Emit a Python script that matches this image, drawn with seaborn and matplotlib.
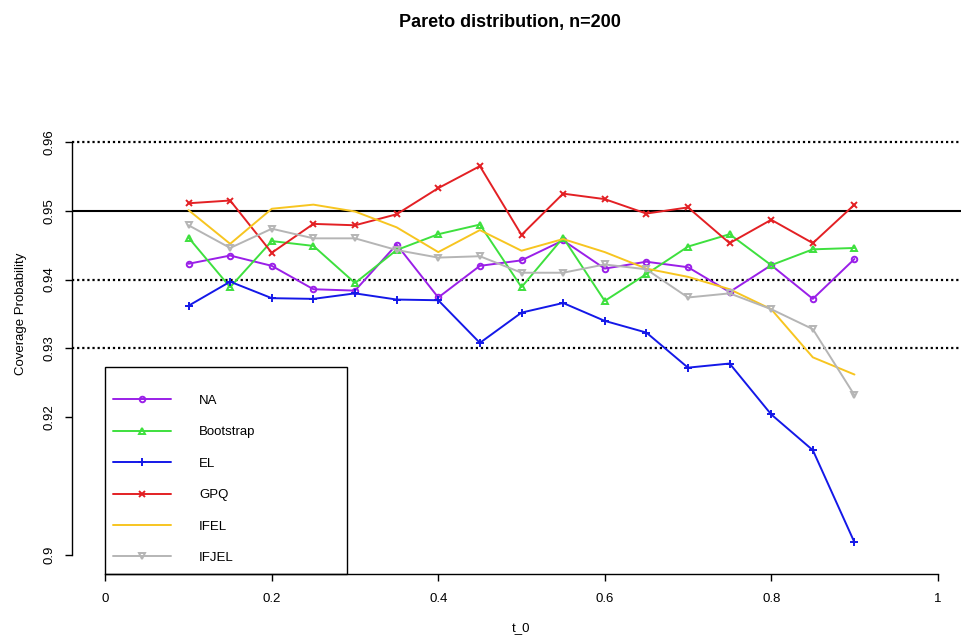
import matplotlib
matplotlib.use("Agg")
import matplotlib.pyplot as plt
from matplotlib.patches import Rectangle
import seaborn as sns
import numpy as np

t0 = [0.10, 0.15, 0.20, 0.25, 0.30, 0.35, 0.40, 0.45, 0.50,
      0.55, 0.60, 0.65, 0.70, 0.75, 0.80, 0.85, 0.90]

na_vals = [0.9423, 0.9435, 0.9420, 0.9386, 0.9384, 0.9451, 0.9374, 0.9420, 0.9428,
           0.9457, 0.9416, 0.9426, 0.9418, 0.9382, 0.9421, 0.9372, 0.9430]
boot_vals = [0.9461, 0.9389, 0.9456, 0.9449, 0.9395, 0.9443, 0.9466, 0.9480, 0.9389,
             0.9461, 0.9369, 0.9408, 0.9448, 0.9466, 0.9421, 0.9444, 0.9446]
el_vals = [0.9362, 0.9397, 0.9373, 0.9372, 0.9380, 0.9371, 0.9370, 0.9308, 0.9352,
           0.9366, 0.9340, 0.9323, 0.9272, 0.9278, 0.9204, 0.9152, 0.9018]
gpq_vals = [0.9511, 0.9515, 0.9439, 0.9481, 0.9479, 0.9495, 0.9533, 0.9565, 0.9465,
            0.9525, 0.9517, 0.9496, 0.9505, 0.9453, 0.9487, 0.9453, 0.9509]
ifel_vals = [0.9501, 0.9452, 0.9503, 0.9509, 0.9499, 0.9476, 0.9440, 0.9472, 0.9442,
             0.9459, 0.9440, 0.9416, 0.9404, 0.9386, 0.9357, 0.9287, 0.9262]
ifjel_vals = [0.9479, 0.9446, 0.9474, 0.9460, 0.9460, 0.9443, 0.9432, 0.9434, 0.9410,
              0.9410, 0.9422, 0.9415, 0.9374, 0.9380, 0.9357, 0.9328, 0.9232]

series_names = ["NA", "Bootstrap", "EL", "GPQ", "IFEL", "IFJEL"]
series_vals = [na_vals, boot_vals, el_vals, gpq_vals, ifel_vals, ifjel_vals]
series_colors = ["#9a1fe8", "#3ee03e", "#1418e8", "#e32024", "#f7c520", "#b5b5b5"]
series_markers = ["o", "^", "+", "x", None, "v"]
series_msize = [4.0, 4.6, 6.2, 4.8, 0, 4.6]

yticks = [0.90, 0.92, 0.93, 0.94, 0.95, 0.96]
ytick_labels = ["0.9", "0.92", "0.93", "0.94", "0.95", "0.96"]
xticks = [0, 0.2, 0.4, 0.6, 0.8, 1]
xtick_labels = ["0", "0.2", "0.4", "0.6", "0.8", "1"]

sns.set_style("ticks")
plt.rcParams["font.family"] = ["Liberation Sans", "DejaVu Sans"]
plt.rcParams["text.color"] = "black"
plt.rcParams["axes.labelcolor"] = "black"

W, H = 961, 642
fig = plt.figure(figsize=(W / 100, H / 100), dpi=100)
ax_left, ax_right, ax_top, ax_bottom = 72, 971, 54, 574
ax = fig.add_axes([ax_left / W, (H - ax_bottom) / H,
                   (ax_right - ax_left) / W, (ax_bottom - ax_top) / H])
ax.set_xlim(-0.04, 1.04)
ax.set_ylim(0.8972, 0.9728)

# reference lines
ax.axhline(0.95, color="black", lw=1.5, zorder=1)
for yv in [0.96, 0.94, 0.93]:
    ax.axhline(yv, color="black", lw=1.6, linestyle=(0, (1, 1.3)), zorder=1)

handles = []
for name, vals, col, mk, ms in zip(series_names, series_vals, series_colors,
                                   series_markers, series_msize):
    kw = dict(color=col, lw=1.4, label=name)
    if mk is not None:
        kw.update(marker=mk, markersize=ms, markeredgewidth=1.4,
                  markerfacecolor="none" if mk in ("o", "^", "v") else col,
                  markeredgecolor=col)
    sns.lineplot(x=t0, y=vals, ax=ax, legend=False, **kw)
    handles.append(ax.lines[-1])

# legend
leg_top_px = 367
leg_top_val = 0.96 - (leg_top_px - 142) / 6883.0
rect = Rectangle((0.0, 0.8972), 0.2905, leg_top_val - 0.8972, fill=False,
                 edgecolor="black", lw=1.0, transform=ax.transData, zorder=5,
                 clip_on=False)
ax.add_patch(rect)
leg = ax.legend(handles=handles, labels=series_names, loc="upper left",
                bbox_to_anchor=(0.0096, 0.96 - (395 - 142) / 6883.0),
                bbox_transform=ax.transData, frameon=False, fontsize=9.5,
                borderpad=0, borderaxespad=0, handlelength=4.4,
                handletextpad=2.1, labelspacing=1.45, numpoints=1)
leg.set_zorder(6)
for txt in leg.get_texts():
    txt.set_color("black")

# axes styling like base R
for s in ["top", "right"]:
    ax.spines[s].set_visible(False)
ax.spines["left"].set_bounds(0.90, 0.96)
ax.spines["bottom"].set_bounds(0, 1)
for s in ["left", "bottom"]:
    ax.spines[s].set_linewidth(1.0)
    ax.spines[s].set_color("black")
ax.set_yticks(yticks)
ax.set_yticklabels(ytick_labels, rotation=90, va="center")
ax.set_xticks(xticks)
ax.set_xticklabels(xtick_labels)
ax.tick_params(axis="y", direction="out", length=5, width=1.0,
               labelsize=9.5, pad=7, colors="black")
ax.tick_params(axis="x", direction="out", length=5, width=1.0,
               labelsize=9.5, pad=9, colors="black")
ax.set_xlabel("t_0", fontsize=9.5, labelpad=12)
ax.set_ylabel("Coverage Probability", fontsize=9.5, labelpad=12)

fig.text(510 / W, 1 - 22 / H, "Pareto distribution, n=200", ha="center",
         va="center", fontsize=13, fontweight="bold", color="black")

fig.savefig("out.png", dpi=100)
